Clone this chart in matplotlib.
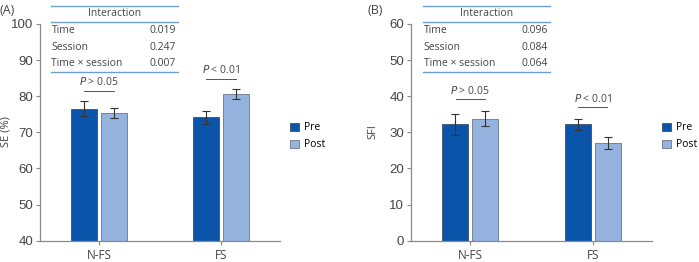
import matplotlib
matplotlib.use("Agg")
import matplotlib.pyplot as plt
from matplotlib.lines import Line2D
import numpy as np

# data
groups = ["N-FS", "FS"]
se_pre = [76.5, 74.2]
se_pre_err = [2.1, 1.8]
se_post = [75.4, 80.6]
se_post_err = [1.4, 1.4]
sfi_pre = [32.2, 32.2]
sfi_pre_err = [3.0, 1.5]
sfi_post = [33.8, 27.1]
sfi_post_err = [2.0, 1.6]
rows = ["Time", "Session", "Time \u00d7 session"]
p_se = ["0.019", "0.247", "0.007"]
p_sfi = ["0.096", "0.084", "0.064"]
p_labels = ["P > 0.05", "P < 0.01"]

W, H = 699, 262
c_pre = "#0a55a9"
c_post = "#94b3de"
c_line = "#6e9fd3"
c_axis = "#8a8a8a"
c_text = "#444444"
num_font = "Liberation Sans"
txt_font = "Open Sans"

fig = plt.figure(figsize=(W / 100, H / 100), dpi=100)

def fx(x):
    return x / W

def fy(y):
    return 1 - y / H

def panel(x0, x1, ymin, ymax, pre, pre_err, post, post_err, ylabel, label, lab_x,
          table_x0, table_x1, pvals, brackets, yticks, ylab_x):
    ax = fig.add_axes([fx(x0), fy(240.7), fx(x1 - x0), 216.7 / H])
    x = np.arange(len(groups))
    w = 0.213
    off = 0.123
    ax.bar(x - off, pre, w, color=c_pre, edgecolor="#3c4f6a", linewidth=0.6, label="Pre")
    ax.bar(x + off, post, w, color=c_post, edgecolor="#6a7585", linewidth=0.6, label="Post")
    ax.errorbar(x - off, pre, yerr=pre_err, fmt="none", ecolor="#333333",
                elinewidth=0.8, capsize=3, capthick=0.8)
    ax.errorbar(x + off, post, yerr=post_err, fmt="none", ecolor="#333333",
                elinewidth=0.8, capsize=3, capthick=0.8)
    ax.set_xlim(-0.484, 1.484)
    ax.set_ylim(ymin, ymax)
    ax.set_yticks(yticks)
    ax.set_yticklabels([str(t) for t in yticks], fontsize=9.5, family=num_font, color=c_text)
    ax.set_xticks(x)
    ax.set_xticklabels(groups, fontsize=8.5, family=txt_font, color=c_text)
    for s in ["top", "right"]:
        ax.spines[s].set_visible(False)
    for s in ["left", "bottom"]:
        ax.spines[s].set_color(c_axis)
        ax.spines[s].set_linewidth(0.9)
    ax.tick_params(axis="y", length=3, color=c_axis, pad=2)
    ax.tick_params(axis="x", length=3, color=c_axis, pad=3)
    fig.text(fx(ylab_x), fy(132), ylabel, rotation=90, ha="center", va="center",
             fontsize=8, family=txt_font, color=c_text)
    fig.text(fx(lab_x), fy(10), label, ha="left", va="center",
             fontsize=9, family=txt_font, color=c_text)

    # p brackets
    for i, (ly, ty) in enumerate(brackets):
        ax.plot([i - 0.12, i + 0.12], [ly, ly], color="#555555", lw=0.7)
        ax.text(i, ty, "$\\it{P}$" + p_labels[i][1:], ha="center", va="center",
                fontsize=7.5, family=txt_font, color=c_text)

    # interaction table
    for yy in [5.7, 22.3, 71.7]:
        fig.add_artist(Line2D([fx(table_x0), fx(table_x1)], [fy(yy), fy(yy)],
                              color=c_line, lw=1.0))
    fig.text(fx((table_x0 + table_x1) / 2), fy(14), "Interaction", ha="center",
             va="center", fontsize=7.5, family=txt_font, color=c_text)
    for r, pv, yy in zip(rows, pvals, [30.7, 47.3, 64]):
        fig.text(fx(table_x0 + 0.5), fy(yy), r, ha="left", va="center",
                 fontsize=7.5, family=txt_font, color=c_text)
        fig.text(fx(table_x1 - 2), fy(yy), pv, ha="right", va="center",
                 fontsize=7.5, family=txt_font, color=c_text)

    # legend
    fig.legend(handles=[plt.Rectangle((0, 0), 1, 1, fc=c_pre, ec="#3c4f6a", lw=0.6),
                        plt.Rectangle((0, 0), 1, 1, fc=c_post, ec="#6a7585", lw=0.6)],
               labels=["Pre", "Post"], loc="upper left",
               bbox_to_anchor=(fx(x1 + 6), fy(118)), frameon=False,
               handlelength=0.8, handleheight=0.8, handletextpad=0.5,
               labelspacing=0.6, borderaxespad=0,
               prop={"family": txt_font, "size": 7.5})
    return ax

panel(40, 280, 40, 100, se_pre, se_pre_err, se_post, se_post_err, "SE (%)", "(A)", 0,
      51, 178, p_se, [(81.5, 83.9), (84.85, 87.3)], [40, 50, 60, 70, 80, 90, 100], 6)
panel(411, 652, 0, 60, sfi_pre, sfi_pre_err, sfi_post, sfi_post_err, "SFI", "(B)", 367,
      423, 550, p_sfi, [(39.2, 41.5), (37.0, 39.2)], [0, 10, 20, 30, 40, 50, 60], 373)

fig.savefig("out.png", dpi=100)
